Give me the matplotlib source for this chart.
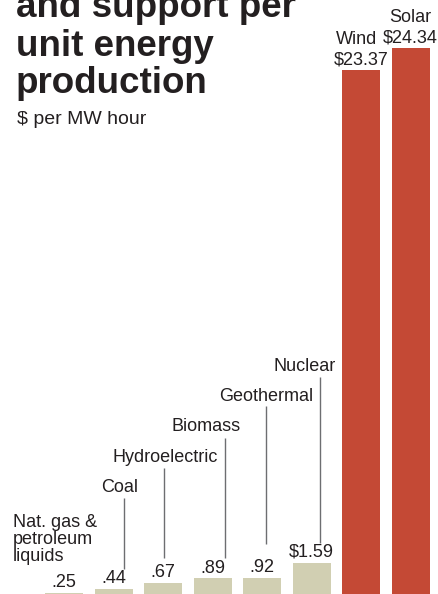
import matplotlib
matplotlib.use("Agg")
import matplotlib.pyplot as plt

plt.rcParams['font.family'] = ['Liberation Sans', 'DejaVu Sans']

# ---- data ----
categories = ["Nat. gas &\npetroleum\nliquids", "Coal", "Hydroelectric", "Biomass",
              "Geothermal", "Nuclear", "Wind", "Solar"]
values = [0.25, 0.44, 0.67, 0.89, 0.92, 1.59, 23.37, 24.34]
value_labels = [".25", ".44", ".67", ".89", ".92", "$1.59", "$23.37", "$24.34"]
title_lines = ["and support per", "unit energy", "production"]
subtitle = "$ per MW hour"

# ---- style / layout ----
tan = "#d1cfb2"
red = "#c44935"
colors = [tan] * 6 + [red] * 2
text_col = "#231f20"

W, H = 438, 594
fig = plt.figure(figsize=(W / 100, H / 100), dpi=100)
ax = fig.add_axes([0, 0, 1, 1])
ax.set_axis_off()

step = 49.5
x0 = 64.0
ax.set_xlim(-x0 / step, (W - x0) / step)
base_px = 598.6
ppu = 22.61
ax.set_ylim((base_px - H) / ppu, base_px / ppu)

xs = list(range(len(values)))
ax.bar(xs, values, width=38 / step, color=colors, linewidth=0)

fs = 13
# value labels above bars
for x, v, lab in zip(xs, values, value_labels):
    ax.annotate(lab, (x, v), xytext=(0, 4.3), textcoords="offset points",
                ha="center", va="baseline", fontsize=fs, color=text_col)

# Nat gas label (no leader line), left aligned
natgas_baselines = [3.18, 2.415, 1.663]
for line, yb in zip(categories[0].split("\n"), natgas_baselines):
    ax.text(-51 / step, yb, line, fontsize=fs, color=text_col,
            ha="left", va="baseline")

# leader-line labels
label_dx = [0.13, 0.04, -0.13, 0.09, -0.14]
label_y = [4.728, 6.055, 7.426, 8.753, 10.066]
line_dx = [0.206, 0.014, 0.246, 0.075, 0.172]
line_top = [4.449, 5.763, 7.116, 8.532, 9.814]
line_bot = [1.296, 1.782, 1.782, 2.415, 2.446]
for i in range(5):
    idx = i + 1
    ax.text(idx + label_dx[i], label_y[i], categories[idx], ha="center", va="baseline",
            fontsize=fs, color=text_col)
    ax.vlines(idx + line_dx[i], line_bot[i], line_top[i], color="#6d6e71", linewidth=1.0)

# wind / solar names above value labels
ax.annotate(categories[6], (6 + 16 / step, values[6]), xytext=(0, 4.3 + 14.4),
            textcoords="offset points", ha="right", va="baseline",
            fontsize=fs, color=text_col)
ax.annotate(categories[7], (7, values[7]), xytext=(0, 4.3 + 14.4),
            textcoords="offset points", ha="center", va="baseline",
            fontsize=fs, color=text_col)

# title & subtitle
title_baselines = [17, 55.7, 93]
for line, yb in zip(title_lines, title_baselines):
    fig.text(16 / W, 1 - yb / H, line, fontsize=26.5, fontweight="bold",
             color=text_col, ha="left", va="baseline")
fig.text(17 / W, 1 - 124.3 / H, subtitle, fontsize=14, color=text_col,
         ha="left", va="baseline")

fig.savefig("out.png", dpi=100)
